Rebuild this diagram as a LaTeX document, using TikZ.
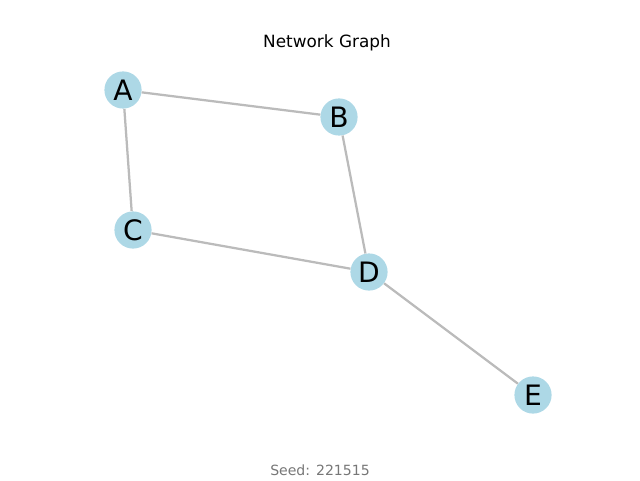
\documentclass[tikz,border=0pt]{standalone}
\usepackage{fontspec}
\setmainfont{DejaVu Sans}
\definecolor{nodeblue}{HTML}{ADD8E6}
\definecolor{edgegray}{HTML}{BBBBBB}
\definecolor{seedgray}{HTML}{777777}
\begin{document}
\begin{tikzpicture}[
    vertex/.style={circle, fill=nodeblue, minimum size=0.93cm, inner sep=0pt,
        font=\fontsize{20}{24}\selectfont},
    link/.style={draw=edgegray, line width=1.6pt}
]
                \useasboundingbox (0,0) rectangle (16,12);
                \node (title) at (8.175,10.925) {\fontsize{12}{14}\selectfont Network Graph};
                \node[text=seedgray] (seed) at (8.0,0.25) {\fontsize{10}{12}\selectfont Seed: 221515};

                \node[vertex] (A) at (3.075,9.75) {A};
                \node[vertex] (B) at (8.475,9.075) {B};
                \node[vertex] (C) at (3.325,6.25) {C};
                \node[vertex] (D) at (9.225,5.2) {D};
                \node[vertex] (E) at (13.325,2.125) {E};

                \draw[link] (A) -- (B) (A) -- (C) (B) -- (D) (C) -- (D) (D) -- (E);

            \end{tikzpicture}
\end{document}
